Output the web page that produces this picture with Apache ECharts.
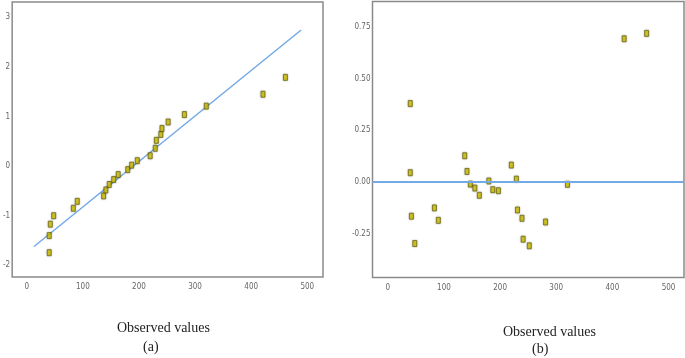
<!DOCTYPE html>
<html>
<head>
<meta charset="utf-8">
<script src="https://cdn.jsdelivr.net/npm/echarts@6/dist/echarts.min.js"></script>
<style>html,body{margin:0;padding:0;background:#fff}#c{width:685px;height:358px}</style>
</head>
<body>
<div id="c"></div>
<script>
// Observed values (shared x for both panels)
const xObserved = [40, 40, 42, 48, 83, 90, 137, 141, 147, 155, 163, 180, 187, 197, 220, 229, 231, 239, 241, 252, 281, 320, 421, 461];
// Panel (a): expected normal values
const expectedNormal = [-1.745, -1.40, -1.17, -1.0, -0.85, -0.71, -0.60, -0.48, -0.37, -0.27, -0.17, -0.07, 0.02, 0.11, 0.21, 0.36, 0.52, 0.64, 0.76, 0.89, 1.04, 1.21, 1.45, 1.79];
// Panel (a): reference line endpoints
const refLineX = [13, 489];
const refLineY = [-1.62, 2.745];
// Panel (b): deviation from normal
const deviation = [0.379, 0.045, -0.165, -0.297, -0.125, -0.185, 0.127, 0.051, -0.010, -0.029, -0.064, 0.005, -0.037, -0.042, 0.082, 0.014, -0.135, -0.175, -0.276, -0.308, -0.193, -0.011, 0.692, 0.718];
// Tick labels
const xTicks = [0, 100, 200, 300, 400, 500];
const yTicksA = [-2, -1, 0, 1, 2, 3];
const yTicksB = [-0.25, 0, 0.25, 0.5, 0.75];

const labelFont = {fontFamily: '"Liberation Sans Narrow", "DejaVu Sans Condensed", sans-serif', fontSize: 8, color: '#666'};
const markerStyle = {color: '#d8c800', borderColor: '#5e5a00', borderWidth: 0.8, shadowBlur: 2, shadowColor: 'rgba(0,0,0,0.35)'};
const lineBlue = '#72a9e6';

function xAxisCfg(idx, min, max) {
  return {
    type: 'value', gridIndex: idx, min: min, max: max,
    splitLine: {show: false}, axisTick: {show: false},
    axisLine: {show: false},
    axisLabel: Object.assign({customValues: xTicks, margin: 6}, labelFont)
  };
}
function yAxisCfg(idx, min, max, ticks, fmt) {
  return {
    type: 'value', gridIndex: idx, min: min, max: max,
    splitLine: {show: false}, axisTick: {show: false},
    axisLine: {show: false},
    axisLabel: Object.assign({customValues: ticks, margin: 2, formatter: fmt}, labelFont)
  };
}

const chart = echarts.init(document.getElementById('c'), null, {renderer: 'canvas'});
chart.setOption({
  animation: false,
  backgroundColor: '#fff',
  grid: [
    {left: 7, top: 2, width: 316, height: 275, show: true, borderColor: '#8a8a8a', borderWidth: 1.5, backgroundColor: 'transparent'},
    {left: 372.5, top: 1.5, width: 311.5, height: 276, show: true, borderColor: '#8a8a8a', borderWidth: 1.5, backgroundColor: 'transparent'}
  ],
  xAxis: [xAxisCfg(0, -26, 528), xAxisCfg(1, -27.3, 527.6)],
  yAxis: [
    yAxisCfg(0, -2.235, 3.31, yTicksA, v => String(v)),
    yAxisCfg(1, -0.461, 0.872, yTicksB, v => v.toFixed(2))
  ],
  graphic: [
    {type: 'text', left: 117, top: 321, style: {text: 'Observed values', font: '14px "Liberation Serif", serif', fill: '#222'}},
    {type: 'text', left: 143, top: 340, style: {text: '(a)', font: '14px "Liberation Serif", serif', fill: '#222'}},
    {type: 'text', left: 503, top: 325, style: {text: 'Observed values', font: '14px "Liberation Serif", serif', fill: '#222'}},
    {type: 'text', left: 532, top: 342, style: {text: '(b)', font: '14px "Liberation Serif", serif', fill: '#222'}}
  ],
  series: [
    {
      type: 'line', xAxisIndex: 0, yAxisIndex: 0, symbol: 'none', silent: true,
      data: refLineX.map((x, i) => [x, refLineY[i]]),
      lineStyle: {color: lineBlue, width: 1.5}, z: 2
    },
    {
      type: 'scatter', xAxisIndex: 0, yAxisIndex: 0, symbol: 'rect', symbolSize: [4, 6],
      data: xObserved.map((x, i) => [x, expectedNormal[i]]),
      itemStyle: markerStyle, z: 3
    },
    {
      type: 'scatter', xAxisIndex: 1, yAxisIndex: 1, symbol: 'rect', symbolSize: [4, 6],
      data: xObserved.map((x, i) => [x, deviation[i]]),
      itemStyle: markerStyle, z: 3,
      markLine: {
        silent: true, symbol: 'none', label: {show: false},
        lineStyle: {color: lineBlue, width: 2, type: 'solid'},
        data: [{yAxis: 0}]
      }
    }
  ]
});
</script>
</body>
</html>
